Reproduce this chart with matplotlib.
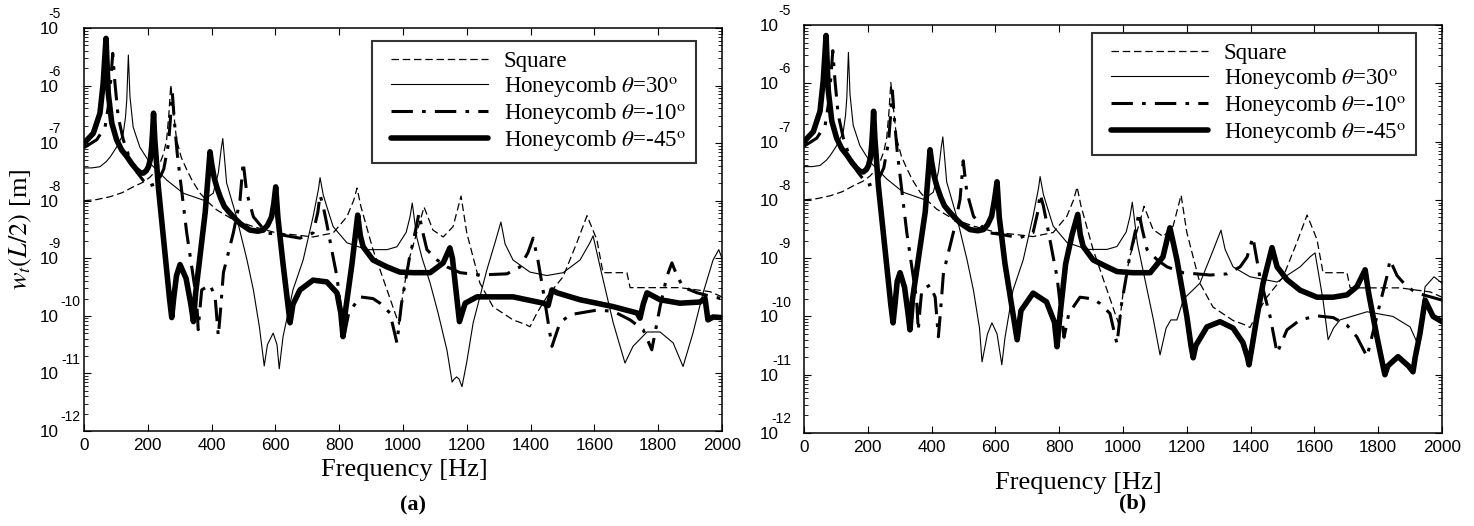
import numpy as np
import matplotlib
matplotlib.use("Agg")
import matplotlib.pyplot as plt
from matplotlib.lines import Line2D
from matplotlib.legend_handler import HandlerLine2D
from matplotlib.ticker import FixedLocator, FixedFormatter, LogLocator, NullFormatter

plt.rcParams["mathtext.fontset"] = "stix"
plt.rcParams["font.family"] = "Liberation Serif"

# ---------------- data, panel (a) : log10 of w_t(L/2) in m ----------------
sq_a_f = [0, 40, 82, 120, 154, 185, 207, 225, 238, 250, 259, 266, 272, 280, 290, 305, 322, 340,
          364, 390, 416, 468, 531, 604, 656, 718, 781, 824, 845, 856, 868, 906, 950, 975, 988,
          1000, 1020, 1043, 1066, 1094, 1126, 1157, 1182, 1200, 1241, 1282, 1345, 1385, 1398,
          1420, 1451, 1502, 1545, 1577, 1608, 1627, 1702, 1712, 1868, 1963, 2000]
sq_a_w = [-8.0, -7.98, -7.93, -7.86, -7.76, -7.68, -7.59, -7.48, -7.35, -7.17, -6.94, -6.5, -5.99,
          -6.42, -6.94, -7.25, -7.46, -7.66, -7.87, -8.03, -8.16, -8.33, -8.45, -8.56, -8.59,
          -8.63, -8.56, -8.28, -8.0, -7.78, -8.1, -8.85, -9.55, -9.95, -10.15, -9.6, -9.0, -8.56,
          -8.11, -8.51, -8.63, -8.45, -7.92, -8.56, -9.43, -9.84, -10.07, -10.15, -10.19, -9.95,
          -9.67, -9.32, -8.73, -8.26, -8.68, -9.25, -9.25, -9.51, -9.51, -9.58, -9.67]

hc30_a_f = [0, 25, 50, 70, 82, 95, 102, 115, 123, 130, 134, 139, 144, 154, 175, 207, 259, 311,
            374, 405, 421, 430, 435, 441, 447, 478, 511, 531, 550, 565, 575, 593, 605, 612, 624,
            655, 687, 718, 735, 740, 750, 761, 781, 824, 887, 950, 981, 1010, 1022, 1029, 1043,
            1060, 1085, 1110, 1138, 1154, 1160, 1168, 1176, 1185, 1200, 1220, 1263, 1290, 1307,
            1320, 1345, 1398, 1451, 1502, 1555, 1586, 1596, 1618, 1659, 1696, 1721, 1765, 1806,
            1847, 1878, 1909, 1941, 1972, 1990, 2000]
hc30_a_w = [-7.43, -7.43, -7.41, -7.32, -7.24, -7.13, -7.07, -6.93, -6.83, -6.55, -6.25, -5.47,
            -6.19, -6.72, -7.07, -7.35, -7.64, -7.87, -7.99, -7.87, -7.52, -7.1, -6.92, -7.3,
            -7.69, -8.28, -9.03, -9.55, -10.2, -10.87, -10.5, -10.3, -10.5, -10.92, -10.36, -9.55,
            -9.03, -8.28, -7.8, -7.6, -7.9, -8.1, -8.45, -8.73, -8.85, -8.85, -8.8, -8.55, -8.28,
            -8.04, -8.63, -9.0, -9.43, -9.95, -10.6, -11.15, -11.1, -11.06, -11.1, -11.23, -10.8,
            -10.12, -9.2, -8.7, -8.37, -8.75, -9.03, -9.24, -9.3, -9.25, -9.03, -8.73, -8.61,
            -9.15, -10.12, -10.82, -10.53, -10.28, -10.28, -10.47, -10.88, -10.3, -9.6, -9.03,
            -8.85, -9.0]

hc10_a_f = [0, 40, 66, 76, 84, 90, 97, 107, 123, 139, 165, 200, 229, 250, 265, 272, 277, 283,
            292, 322, 353, 358, 363, 369, 395, 411, 421, 428, 437, 468, 489, 499, 510, 531, 573,
            614, 677, 718, 733, 740, 750, 761, 781, 793, 815, 830, 865, 906, 928, 959, 981, 995,
            1020, 1040, 1050, 1060, 1075, 1107, 1138, 1179, 1241, 1326, 1367, 1392, 1408, 1423,
            1439, 1467, 1492, 1524, 1608, 1659, 1712, 1753, 1780, 1806, 1827, 1843, 1859, 1878,
            1922, 1972, 2000]
hc10_a_w = [-7.08, -6.94, -6.72, -6.37, -5.9, -5.44, -5.96, -6.54, -6.94, -7.2, -7.5, -7.75,
            -7.7, -7.45, -7.0, -6.5, -6.13, -6.6, -7.17, -8.56, -9.72, -10.24, -9.9, -9.55,
            -9.46, -9.67, -10.35, -9.9, -9.25, -8.56, -7.99, -7.33, -7.86, -8.28, -8.56, -8.59,
            -8.65, -8.56, -8.2, -7.9, -8.1, -8.4, -8.98, -9.32, -10.36, -9.95, -9.67, -9.7,
            -9.78, -9.95, -10.47, -9.8, -9.0, -8.5, -8.22, -8.5, -8.85, -9.03, -9.15, -9.25,
            -9.29, -9.27, -9.15, -8.9, -8.65, -9.03, -9.55, -10.53, -10.12, -9.98, -9.9, -9.92,
            -10.07, -10.24, -10.59, -9.84, -9.32, -9.08, -9.3, -9.5, -9.6, -9.67, -9.7]

hc45_a_f = [0, 29, 50, 60, 69, 76, 87, 102, 118, 134, 150, 165, 178, 186, 195, 202, 208, 212,
            215, 218, 222, 233, 268, 275, 281, 290, 301, 320, 335, 343, 350, 380, 395, 400, 408,
            416, 428, 440, 455, 468, 490, 520, 545, 562, 575, 588, 595, 601, 608, 624, 646, 655,
            677, 718, 761, 793, 805, 812, 820, 840, 858, 866, 875, 906, 950, 990, 1032, 1085,
            1126, 1147, 1155, 1163, 1177, 1195, 1232, 1345, 1440, 1455, 1467, 1483, 1555, 1659,
            1734, 1743, 1753, 1765, 1806, 1868, 1931, 1947, 1956, 1963, 1972, 2000]
hc45_a_w = [-7.0, -6.83, -6.48, -5.96, -5.18, -6.13, -6.65, -6.94, -7.12, -7.23, -7.36, -7.46,
            -7.52, -7.52, -7.48, -7.41, -7.28, -7.06, -6.8, -6.48, -6.94, -7.76, -9.7, -10.03,
            -9.7, -9.3, -9.11, -9.35, -9.8, -10.1, -9.6, -8.2, -7.15, -7.35, -7.6, -7.76, -7.95,
            -8.1, -8.2, -8.28, -8.4, -8.51, -8.53, -8.51, -8.43, -8.28, -8.05, -7.76, -8.3, -9.1,
            -10.12, -9.8, -9.55, -9.38, -9.41, -9.6, -9.95, -10.36, -9.9, -9.1, -8.25, -8.6, -8.8,
            -9.03, -9.15, -9.24, -9.25, -9.25, -9.08, -8.82, -9.0, -9.4, -10.1, -9.78, -9.67,
            -9.67, -9.78, -9.82, -9.55, -9.6, -9.72, -9.84, -9.95, -10.04, -9.8, -9.6, -9.72,
            -9.78, -9.76, -9.7, -10.07, -10.05, -10.02, -10.03]

# ---------------- data, panel (b) ----------------
sq_b_f = sq_a_f
sq_b_w = sq_a_w

hc30_b_f = hc30_a_f[:28] + [550, 558, 575, 589, 605, 620, 630, 655, 687, 718, 735, 740, 750, 761,
                            781, 824, 887, 950, 981, 1010, 1022, 1029, 1045, 1070, 1095, 1116,
                            1135, 1150, 1169, 1190, 1241, 1280, 1307, 1320, 1345, 1398, 1483,
                            1555, 1586, 1602, 1627, 1643, 1660, 1680, 1765, 1846, 1900, 1922,
                            1935, 1947, 1975, 2000]
hc30_b_w = hc30_a_w[:28] + [-10.2, -10.78, -10.3, -10.11, -10.3, -10.83, -10.36, -9.55, -9.03,
                            -8.28, -7.8, -7.6, -7.9, -8.1, -8.45, -8.73, -8.85, -8.85, -8.8,
                            -8.55, -8.28, -8.04, -8.75, -9.4, -10.05, -10.66, -10.2, -10.06,
                            -10.06, -9.7, -9.43, -8.9, -8.52, -8.85, -9.15, -9.32, -9.41, -9.15,
                            -8.98, -8.91, -9.72, -10.4, -10.2, -10.06, -9.92, -10.0, -10.18,
                            -10.45, -10.0, -9.49, -9.32, -9.43]

hc10_b_f = hc10_a_f[:56] + [1075, 1107, 1138, 1188, 1273, 1326, 1367, 1389, 1407, 1429, 1461,
                            1483, 1514, 1555, 1608, 1659, 1702, 1733, 1765, 1806, 1827, 1837,
                            1859, 1890, 1922, 2000]
hc10_b_w = hc10_a_w[:56] + [-8.85, -9.03, -9.15, -9.25, -9.29, -9.27, -9.15, -8.98, -8.64, -9.32,
                            -10.0, -10.63, -10.23, -10.06, -9.99, -10.02, -10.15, -10.35, -10.69,
                            -9.77, -9.32, -9.03, -9.3, -9.49, -9.6, -9.72]

hc45_b_f = hc45_a_f[:22] + [272, 279, 285, 292, 301, 315, 326, 332, 340, 380, 395, 400, 408, 416,
                            428, 440, 455, 468, 490, 520, 545, 562, 575, 588, 597, 605, 612, 630,
                            668, 680, 718, 760, 785, 793, 802, 820, 840, 858, 866, 875, 906, 950,
                            981, 1031, 1085, 1125, 1147, 1158, 1169, 1200, 1213, 1220, 1228, 1263,
                            1304, 1345, 1376, 1390, 1395, 1402, 1420, 1439, 1467, 1483, 1514,
                            1555, 1608, 1659, 1702, 1733, 1759, 1770, 1796, 1815, 1821, 1830,
                            1862, 1895, 1909, 1916, 1931, 1947, 1972, 2000]
hc45_b_w = hc45_a_w[:22] + [-9.8, -10.11, -9.8, -9.4, -9.25, -9.5, -9.95, -10.23, -9.7, -8.2,
                            -7.14, -7.35, -7.6, -7.76, -7.95, -8.1, -8.2, -8.28, -8.4, -8.51,
                            -8.53, -8.51, -8.43, -8.28, -8.0, -7.69, -8.3, -9.1, -10.4, -9.9,
                            -9.6, -9.75, -10.1, -10.52, -10.0, -9.1, -8.6, -8.25, -8.6, -8.8,
                            -9.03, -9.15, -9.23, -9.25, -9.25, -8.98, -8.48, -8.75, -9.03,
                            -10.0, -10.5, -10.71, -10.5, -10.18, -10.09, -10.2, -10.45, -10.7,
                            -10.83, -10.6, -10.0, -9.43, -8.82, -9.15, -9.37, -9.55, -9.67,
                            -9.67, -9.63, -9.49, -9.2, -9.6, -10.35, -10.85, -11.0, -10.85,
                            -10.69, -10.85, -10.95, -10.7, -10.29, -9.72, -10.0, -10.09]

labels = ["Square", r"Honeycomb $\theta$=30$^{\rm o}$",
          r"Honeycomb $\theta$=-10$^{\rm o}$", r"Honeycomb $\theta$=-45$^{\rm o}$"]
decades = [-12, -11, -10, -9, -8, -7, -6, -5]

fig = plt.figure(figsize=(14.74, 5.26), dpi=100)
ax_a = fig.add_axes([0.0570, 0.1806, 0.4328, 0.7662])
ax_b = fig.add_axes([0.5455, 0.1768, 0.4328, 0.7757])


def exp_offset_a(d):
    # horizontal place (px from the axis) of the raised exponent, panel (a)
    return -23 if d > -10 else -4


def exp_offset_b(d):
    return -13


def draw_panel(ax, curves, leg_anchor, exp_offset):
    (sf, sw), (tf, tw), (df, dw), (kf, kw) = curves
    ax.plot(sf, 10.0 ** np.array(sw), color="black", lw=0.9, ls=(0, (6, 3)), label=labels[0])
    ax.plot(tf, 10.0 ** np.array(tw), color="black", lw=0.8, label=labels[1])
    ax.plot(df, 10.0 ** np.array(dw), color="black", lw=2.2, ls=(0, (7, 3, 1.2, 3)), label=labels[2])
    ax.plot(kf, 10.0 ** np.array(kw), color="black", lw=4.0, label=labels[3],
            solid_joinstyle="round", solid_capstyle="round")
    ax.set_yscale("log")
    ax.set_xlim(0, 2000)
    ax.set_ylim(1e-12, 1e-5)
    ax.set_xticks(np.arange(0, 2001, 200))
    ax.yaxis.set_major_locator(FixedLocator([10.0 ** d for d in decades]))
    ax.yaxis.set_major_formatter(FixedFormatter(["10"] * len(decades)))
    ax.yaxis.set_minor_locator(LogLocator(base=10, subs=np.arange(2, 10), numticks=20))
    ax.yaxis.set_minor_formatter(NullFormatter())
    ax.tick_params(which="both", direction="in", top=True, right=True)
    ax.tick_params(which="major", length=5, width=0.8)
    ax.tick_params(which="minor", length=3, width=0.6)
    ax.tick_params(axis="x", pad=5)
    ax.tick_params(axis="y", pad=18.5)
    for lab in ax.get_xticklabels() + ax.get_yticklabels():
        lab.set_family("Liberation Sans")
        lab.set_fontsize(12.3)
    for d in decades:
        ax.annotate(str(d), xy=(0, 10.0 ** d), xycoords=("axes fraction", "data"),
                    xytext=(exp_offset(d) * 0.72, 10), textcoords="offset points",
                    ha="right", va="center", family="Liberation Sans", fontsize=10)
    for sp in ax.spines.values():
        sp.set_linewidth(1.1)
    leg = ax.legend(loc="upper right", bbox_to_anchor=leg_anchor, fontsize=16.5, frameon=True,
                    fancybox=False, edgecolor="black", handlelength=5.0, handletextpad=0.3,
                    borderpad=0.45, labelspacing=0.08, borderaxespad=0, numpoints=2,
                    handler_map={Line2D: HandlerLine2D(marker_pad=0.4)})
    leg.get_frame().set_linewidth(1.5)


draw_panel(ax_a, [(sq_a_f, sq_a_w), (hc30_a_f, hc30_a_w), (hc10_a_f, hc10_a_w), (hc45_a_f, hc45_a_w)],
           (0.959, 0.968), exp_offset_a)
draw_panel(ax_b, [(sq_b_f, sq_b_w), (hc30_b_f, hc30_b_w), (hc10_b_f, hc10_b_w), (hc45_b_f, hc45_b_w)],
           (0.959, 0.980), exp_offset_b)

ax_a.set_ylabel(r"$w_t(L/2)$ [m]", fontsize=19)
ax_a.yaxis.set_label_coords(-0.078, 0.5)
fig.text(404 / 1474, 1 - 470 / 526, "Frequency [Hz]", ha="center", va="center", fontsize=19)
fig.text(1078 / 1474, 1 - 483 / 526, "Frequency [Hz]", ha="center", va="center", fontsize=19)
fig.text(413 / 1474, 1 - 505 / 526, "(a)", ha="center", va="center", fontsize=16, weight="bold")
fig.text(1133 / 1474, 1 - 503 / 526, "(b)", ha="center", va="center", fontsize=16, weight="bold")

fig.savefig("out.png", dpi=100)
